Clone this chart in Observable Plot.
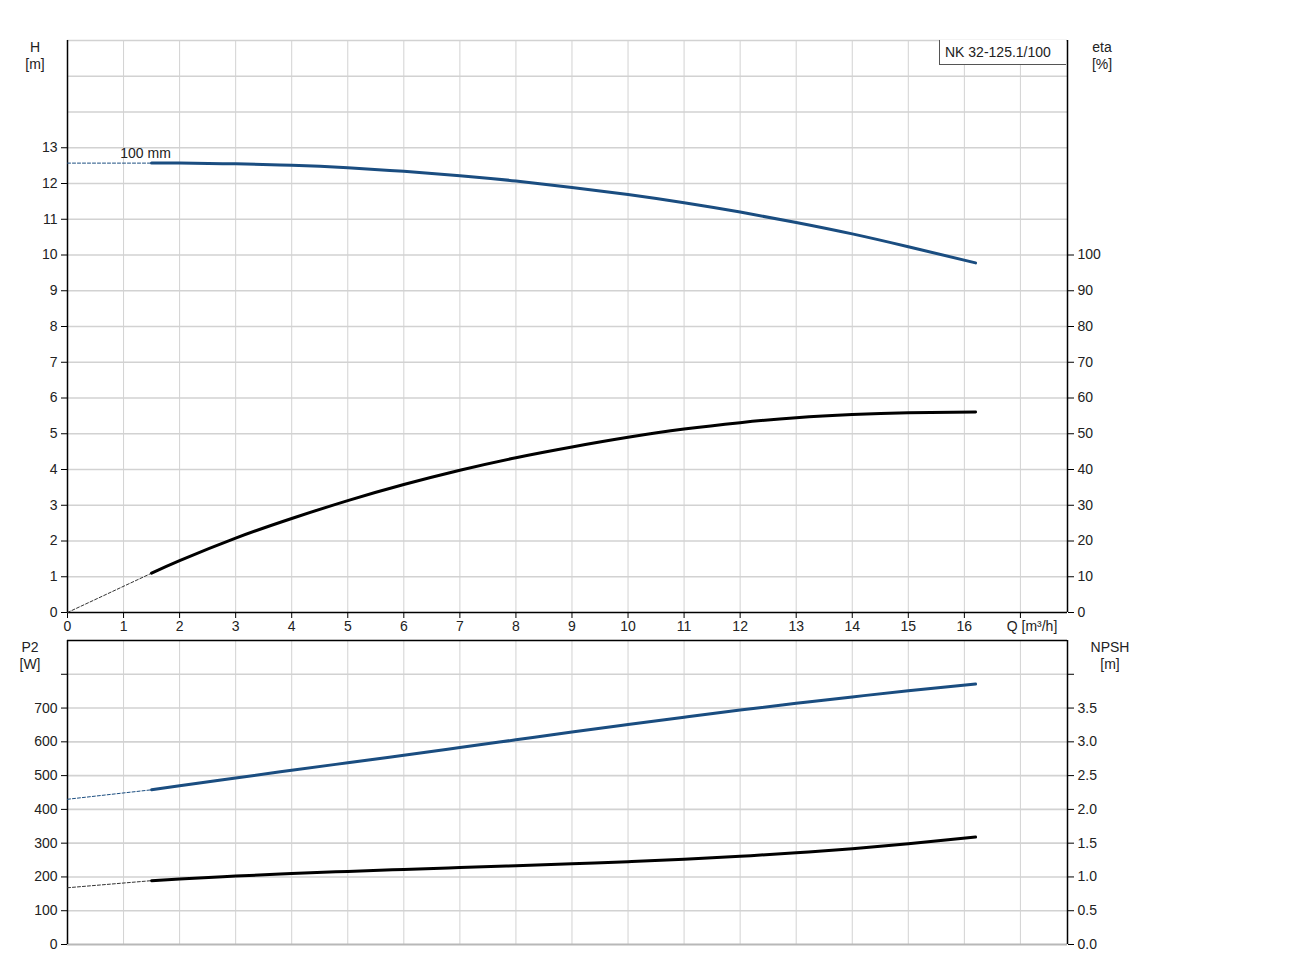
<!DOCTYPE html>
<html>
<head>
<meta charset="utf-8">
<script src="https://cdn.jsdelivr.net/npm/d3@7"></script>
<script src="https://cdn.jsdelivr.net/npm/@observablehq/plot@0.6"></script>
<style>
  html, body { margin: 0; padding: 0; background: #fff; }
  #wrap { position: relative; width: 1296px; height: 959px; font-family: "Liberation Sans", Arial, sans-serif; font-size: 14px; color: #222; }
  #wrap > svg, #wrap > div { position: absolute; left: 0; }
  .lbl { text-align: center; line-height: 17px; }
</style>
</head>
<body>
<div id="wrap"></div>
<script>
// ---- data ----
const qFlow = [1.5, 2, 3, 4, 5, 6, 7, 8, 9, 10, 11, 12, 13, 14, 15, 16.2];
const headH = [12.57, 12.57, 12.55, 12.51, 12.44, 12.34, 12.22, 12.07, 11.89, 11.69, 11.46, 11.20, 10.91, 10.59, 10.23, 9.78];
const etaPct = [11.0, 14.5, 20.8, 26.3, 31.3, 35.8, 39.8, 43.3, 46.3, 49.0, 51.3, 53.1, 54.5, 55.4, 55.9, 56.1];
const powerP2 = [458, 470, 493, 516, 538, 560, 583, 606, 629, 651, 673, 694, 714, 733, 751, 771];
const npshM = [0.945, 0.97, 1.013, 1.05, 1.082, 1.111, 1.138, 1.165, 1.194, 1.226, 1.263, 1.306, 1.357, 1.417, 1.49, 1.59];

// dashed extrapolations to Q = 0
const qDash = [0, 1.5];
const headDash = [12.57, 12.57];
const etaDash = [0, 11.0];
const p2Dash = [430, 458];
const npshDash = [0.84, 0.945];

const xTicks = [0,1,2,3,4,5,6,7,8,9,10,11,12,13,14,15,16,17];
const xGrid = [1,2,3,4,5,6,7,8,9,10,11,12,13,14,15,16,17];
const hTicks = [0,1,2,3,4,5,6,7,8,9,10,11,12,13];
const hGrid = [1,2,3,4,5,6,7,8,9,10,11,12,13,14,15,16];
const etaTicks = [0,10,20,30,40,50,60,70,80,90,100];
const p2Ticks = [0,100,200,300,400,500,600,700,800];
const p2Grid = [100,200,300,400,500,600,700,800];
const npshTicks = [0,0.5,1,1.5,2,2.5,3,3.5,4];

const xMax = 17.84;
const blue = "#1a4d80";
const gridC = "#d2d2d2";
const font = {fontFamily: "Liberation Sans, Arial, sans-serif", fontSize: "14px", background: "transparent", overflow: "visible"};

const rows = (xs, ys) => xs.map((x, i) => ({x, y: ys[i]}));

const W = 1296, mL = 67, mR = W - 1067;

// ---- top panel (H) ----
const topH = Plot.plot({
  width: W, height: 650, marginLeft: mL, marginRight: mR, marginTop: 40, marginBottom: 38,
  style: font,
  x: {domain: [0, xMax], axis: null},
  y: {domain: [0, 16], axis: null},
  marks: [
    Plot.gridX(xGrid, {stroke: gridC, strokeOpacity: 1}),
    Plot.gridY(hGrid, {stroke: gridC, strokeOpacity: 1, strokeWidth: 1.6}),
    Plot.axisY(hTicks, {anchor: "left", tickSize: 6, tickPadding: 4, fontSize: 14, label: null, stroke: "#000"}),
    Plot.axisX(xTicks, {anchor: "bottom", tickSize: 6, tickPadding: 3, fontSize: 14, label: null, stroke: "#000",
      tickFormat: d => d === 17 ? "" : d}),
    Plot.ruleX([0, xMax], {stroke: "#000", strokeWidth: 1.5}),
    Plot.ruleY([0], {stroke: "#000", strokeWidth: 1.5}),
    Plot.line(rows(qDash, headDash), {x: "x", y: "y", stroke: blue, strokeWidth: 1, strokeDasharray: "3,2"}),
    Plot.line(rows(qFlow, headH), {x: "x", y: "y", stroke: blue, strokeWidth: 3, curve: "natural"}),
    Plot.text([{x: qFlow[0], y: headH[0]}], {x: "x", y: "y", text: () => "100 mm", dy: -10, dx: -6, fontSize: 14, fill: "#222"})
  ]
});
topH.style.top = "0px";

// ---- top panel overlay (eta) ----
const topEta = Plot.plot({
  width: W, height: 650, marginLeft: mL, marginRight: mR, marginTop: 40, marginBottom: 38,
  style: font,
  x: {domain: [0, xMax], axis: null},
  y: {domain: [0, 160], axis: null},
  marks: [
    Plot.axisY(etaTicks, {anchor: "right", tickSize: 6, tickPadding: 4, fontSize: 14, label: null, stroke: "#000"}),
    Plot.line(rows(qDash, etaDash), {x: "x", y: "y", stroke: "#333", strokeWidth: 1, strokeDasharray: "3,2"}),
    Plot.line(rows(qFlow, etaPct), {x: "x", y: "y", stroke: "#000", strokeWidth: 3, curve: "natural"})
  ]
});
topEta.style.top = "0px";

// ---- bottom panel (P2) ----
const botP2 = Plot.plot({
  width: W, height: 334, marginLeft: mL, marginRight: mR, marginTop: 15, marginBottom: 15,
  style: font,
  x: {domain: [0, xMax], axis: null},
  y: {domain: [0, 900], axis: null},
  marks: [
    Plot.gridX(xGrid, {stroke: gridC, strokeOpacity: 1}),
    Plot.gridY(p2Grid, {stroke: gridC, strokeOpacity: 1, strokeWidth: 1.6}),
    Plot.ruleY([0], {stroke: "#b8b8b8", strokeWidth: 2}),
    Plot.ruleY([900], {stroke: "#000", strokeWidth: 1.5}),
    Plot.ruleX([0, xMax], {stroke: "#000", strokeWidth: 1.5}),
    Plot.axisY(p2Ticks, {anchor: "left", tickSize: 6, tickPadding: 4, fontSize: 14, label: null, stroke: "#000",
      tickFormat: d => d === 800 ? "" : d}),
    Plot.line(rows(qDash, p2Dash), {x: "x", y: "y", stroke: blue, strokeWidth: 1, strokeDasharray: "3,2"}),
    Plot.line(rows(qFlow, powerP2), {x: "x", y: "y", stroke: blue, strokeWidth: 3, curve: "natural"})
  ]
});
botP2.style.top = "625px";

// ---- bottom overlay (NPSH) ----
const botNpsh = Plot.plot({
  width: W, height: 334, marginLeft: mL, marginRight: mR, marginTop: 15, marginBottom: 15,
  style: font,
  x: {domain: [0, xMax], axis: null},
  y: {domain: [0, 4.5], axis: null},
  marks: [
    Plot.axisY(npshTicks, {anchor: "right", tickSize: 6, tickPadding: 4, fontSize: 14, label: null, stroke: "#000",
      tickFormat: d => d === 4 ? "" : d.toFixed(1)}),
    Plot.line(rows(qDash, npshDash), {x: "x", y: "y", stroke: "#333", strokeWidth: 1, strokeDasharray: "3,2"}),
    Plot.line(rows(qFlow, npshM), {x: "x", y: "y", stroke: "#000", strokeWidth: 3, curve: "natural"})
  ]
});
botNpsh.style.top = "625px";

const wrap = document.getElementById("wrap");
wrap.append(topH, topEta, botP2, botNpsh);

// ---- text labels ----
function addLabel(html, left, top, width, extra) {
  const d = document.createElement("div");
  d.className = "lbl";
  d.innerHTML = html;
  d.style.left = left + "px";
  d.style.top = top + "px";
  d.style.width = width + "px";
  if (extra) Object.assign(d.style, extra);
  wrap.append(d);
}
addLabel("H<br>[m]", 15, 39, 40);
addLabel("eta<br>[%]", 1082, 39, 40);
addLabel("P2<br>[W]", 10, 639, 40);
addLabel("NPSH<br>[m]", 1085, 639, 50);
addLabel("Q [m³/h]", 997, 618, 70);
addLabel("NK 32-125.1/100", 939, 40, 127, {
  height: "25px", lineHeight: "24px", borderLeft: "1px solid #555", borderBottom: "1px solid #555",
  background: "#fff", boxSizing: "border-box", textAlign: "left", paddingLeft: "5px"
});
</script>
</body>
</html>
